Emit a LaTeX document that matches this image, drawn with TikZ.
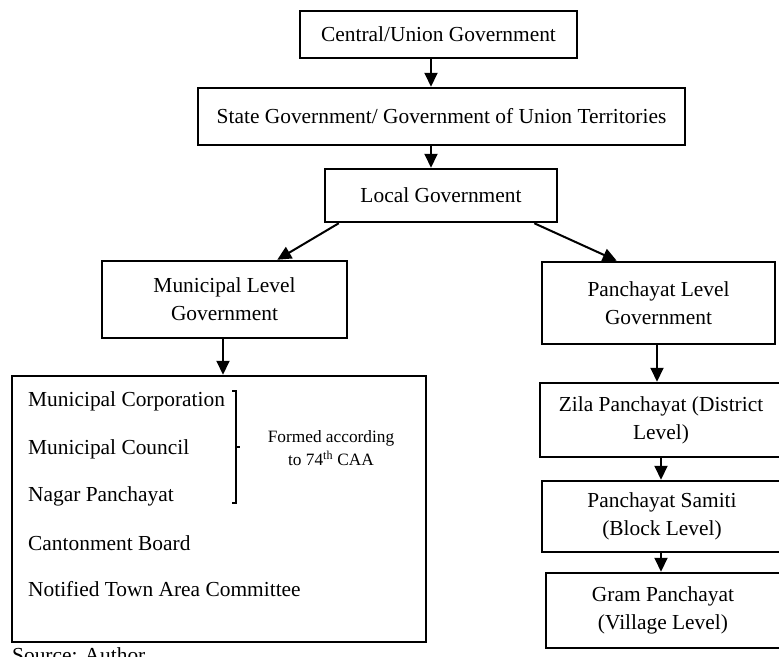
\documentclass[tikz,border=0pt]{standalone}
\usepackage{fontspec}
\setmainfont{Liberation Serif}
\usetikzlibrary{arrows.meta}

\tikzset{
  govbox/.style={draw=black, line width=2.5pt, inner sep=0pt, align=center,
    font=\fontsize{21.4}{28}\selectfont},
  item/.style={anchor=west, inner sep=0pt, font=\fontsize{21.4}{28}\selectfont},
  arr/.style={line width=2pt, -{Triangle[length=14pt, width=13pt]}}
}

\begin{document}
\begin{tikzpicture}[x=1pt, y=-1pt]
      \useasboundingbox (0,0) rectangle (779,656);
      \clip (0,0) rectangle (779,656);

      \node[govbox, minimum width=277pt, minimum height=47pt](CG) at (438.5, 34.5){Central/Union Government};
      \node[govbox, minimum width=487pt, minimum height=57pt](SG) at (441.5,116.5){State Government/ Government of Union Territories};
      \node[govbox, minimum width=232pt, minimum height=53pt](LG) at (441.0,195.5){Local Government};
      \node[govbox, minimum width=245pt, minimum height=77pt](MG) at (224.5,299.5){Municipal Level\\Government};
      \node[govbox, minimum width=233pt, minimum height=82pt](PG) at (658.5,303.0){Panchayat Level\\Government};
      \node[govbox, minimum width=414pt, minimum height=266pt](ML) at (219.0,509.0){};
      \node[govbox, minimum width=242pt, minimum height=74pt](ZP) at (661.0,420.0){Zila Panchayat (District\\Level)};
      \node[govbox, minimum width=240pt, minimum height=71pt](PS) at (662.0,516.5){Panchayat Samiti\\(Block Level)};
      \node[govbox, minimum width=234pt, minimum height=75pt](GP) at (663.0,610.5){Gram Panchayat\\(Village Level)};

      % municipal bodies
      \node[item](M1) at (28,401){Municipal Corporation};
      \node[item](M2) at (28,449){Municipal Council};
      \node[item](M3) at (28,496){Nagar Panchayat};
      \node[item](M4) at (28,543){Cantonment Board};
      \node[item](M5) at (28,589){Notified Town Area Committee};

      \draw[line width=1.8pt] (232,391) -- (236,391) -- (236,503) -- (232,503);
      \draw[line width=1.8pt] (236,447) -- (240,447);
      \node[align=center, inner sep=0pt, font=\fontsize{17.3}{23}\selectfont](CAA) at (331,448){Formed according\\to 74\textsuperscript{th} CAA};

      \node[anchor=base west, inner sep=0pt, font=\fontsize{21.4}{28}\selectfont](SRC) at (12,662){Source: Author};

      \draw[arr] ([xshift=-7.5pt]CG.south) -- ([xshift=-7.5pt]CG.south |- SG.north);
      \draw[arr] ([xshift=-10.5pt]SG.south) -- ([xshift=-10.5pt]SG.south |- LG.north);
      \draw[arr] ([xshift=15pt]LG.south west) -- ([xshift=-71pt]MG.north east);
      \draw[arr] ([xshift=-24pt]LG.south east) -- ([xshift=76pt]PG.north west);
      \draw[arr] ([xshift=-1.5pt]MG.south) -- ([xshift=-1.5pt]MG.south |- ML.north);
      \draw[arr] ([xshift=-1.5pt]PG.south) -- ([xshift=-1.5pt]PG.south |- ZP.north);
      \draw[arr] (ZP.south) -- (ZP.south |- PS.north);
      \draw[arr] ([xshift=-1pt]PS.south) -- ([xshift=-1pt]PS.south |- GP.north);
    \end{tikzpicture}
\end{document}
